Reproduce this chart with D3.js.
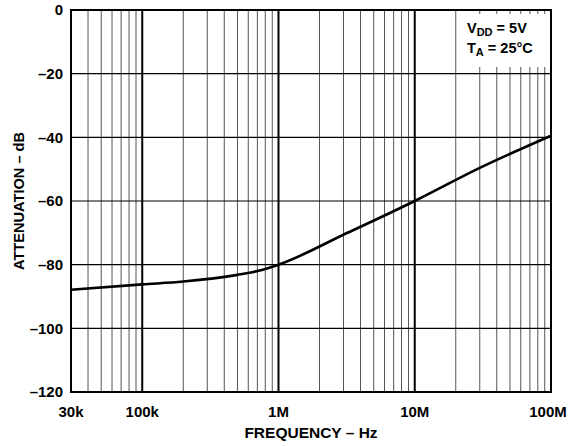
<!DOCTYPE html>
<html>
<head>
<meta charset="utf-8">
<script src="https://cdn.jsdelivr.net/npm/d3@7"></script>
<style>
  body { margin: 0; background: #fff; }
  text { font-family: "Liberation Sans", Arial, sans-serif; font-weight: bold; }
</style>
</head>
<body>
<div id="chart"></div>
<script>
// curve (Hz, dB)
const freq = [30e3, 100e3, 200e3, 500e3, 700e3, 1e6, 3e6, 10e6, 30e6, 100e6];
const atten = [-87.9, -86.2, -85.3, -83.2, -82.0, -80, -70.6, -60, -49.6, -39.5];
const xTicks = [30e3, 1e5, 1e6, 1e7, 1e8];
const xTickLabels = ["30k", "100k", "1M", "10M", "100M"];
const yTicks = [0, -20, -40, -60, -80, -100, -120];

const width = 569, height = 446;
const margin = { top: 10, right: 18, bottom: 54, left: 71 };

const svg = d3.select("#chart").append("svg")
  .attr("width", width)
  .attr("height", height);

const x = d3.scaleLog().domain([30e3, 100e6]).range([margin.left, width - margin.right]);
const y = d3.scaleLinear().domain([-120, 0]).range([height - margin.bottom, margin.top]);

// minor grid lines 2..9 of every decade
const minor = [];
[1e4, 1e5, 1e6, 1e7].forEach(dec => {
  for (let m = 2; m <= 9; m++) {
    const f = dec * m;
    if (f > 30e3 && f < 100e6) minor.push(f);
  }
});

// legend box cuts the minor lines in the top right
const box = { x0: 463, y0: 14, y1: 67 };

svg.append("g")
  .selectAll("line")
  .data(minor)
  .join("line")
  .attr("x1", d => x(d)).attr("x2", d => x(d))
  .attr("y1", y(0)).attr("y2", y(-120))
  .attr("stroke", "#555")
  .attr("stroke-width", 1);

// horizontal grid
svg.append("g")
  .selectAll("line")
  .data(yTicks)
  .join("line")
  .attr("x1", x(30e3)).attr("x2", x(100e6))
  .attr("y1", d => y(d)).attr("y2", d => y(d))
  .attr("stroke", "#000")
  .attr("stroke-width", 1.2);

// white box for the conditions text
svg.append("rect")
  .attr("x", box.x0).attr("y", box.y0)
  .attr("width", x(100e6) - 1 - box.x0)
  .attr("height", box.y1 - box.y0)
  .attr("fill", "#fff");

// decade lines
svg.append("g")
  .selectAll("line")
  .data([1e5, 1e6, 1e7])
  .join("line")
  .attr("x1", d => x(d)).attr("x2", d => x(d))
  .attr("y1", y(0)).attr("y2", y(-120))
  .attr("stroke", "#000")
  .attr("stroke-width", 2);

// frame
svg.append("rect")
  .attr("x", x(30e3)).attr("y", y(0))
  .attr("width", x(100e6) - x(30e3))
  .attr("height", y(-120) - y(0))
  .attr("fill", "none")
  .attr("stroke", "#000")
  .attr("stroke-width", 2);

// curve
const line = d3.line()
  .x((d, i) => x(freq[i]))
  .y(d => y(d))
  .curve(d3.curveMonotoneX);

svg.append("path")
  .datum(atten)
  .attr("d", line)
  .attr("fill", "none")
  .attr("stroke", "#000")
  .attr("stroke-width", 2.6);

// y tick labels
svg.append("g")
  .selectAll("text")
  .data(yTicks)
  .join("text")
  .attr("x", margin.left - 8)
  .attr("y", d => y(d))
  .attr("dy", "0.36em")
  .attr("text-anchor", "end")
  .attr("font-size", 15)
  .text(d => d < 0 ? "\u2013" + Math.abs(d) : d);

// x tick labels
svg.append("g")
  .selectAll("text")
  .data(xTicks)
  .join("text")
  .attr("x", (d, i) => x(d) - (i === xTicks.length - 1 ? 3 : 0))
  .attr("y", height - margin.bottom + 25)
  .attr("text-anchor", "middle")
  .attr("font-size", 15)
  .text((d, i) => xTickLabels[i]);

// axis titles
svg.append("text")
  .attr("x", (x(30e3) + x(100e6)) / 2)
  .attr("y", 438)
  .attr("text-anchor", "middle")
  .attr("font-size", 15.5)
  .text("FREQUENCY \u2013 Hz");

svg.append("text")
  .attr("transform", `translate(24,${(y(0) + y(-120)) / 2}) rotate(-90)`)
  .attr("text-anchor", "middle")
  .attr("font-size", 14.6)
  .text("ATTENUATION \u2013 dB");

// conditions
const cond = svg.append("g").attr("font-size", 14.5);
const t1 = cond.append("text").attr("x", 467).attr("y", 33);
t1.append("tspan").text("V");
t1.append("tspan").attr("font-size", 11).attr("dy", 3).text("DD");
t1.append("tspan").attr("dy", -3).text(" = 5V");
const t2 = cond.append("text").attr("x", 467).attr("y", 53);
t2.append("tspan").text("T");
t2.append("tspan").attr("font-size", 11).attr("dy", 3).text("A");
t2.append("tspan").attr("dy", -3).text(" = 25\u00B0C");
</script>
</body>
</html>
